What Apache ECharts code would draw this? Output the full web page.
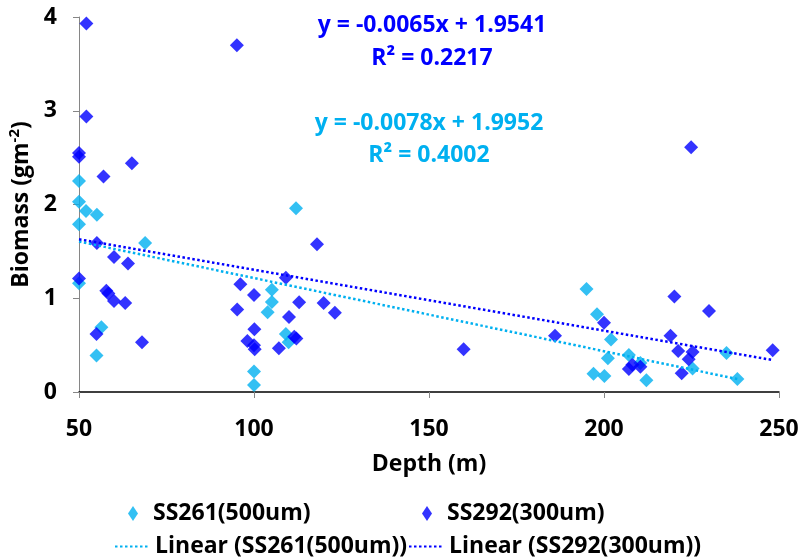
<!DOCTYPE html>
<html>
<head>
<meta charset="utf-8">
<script src="https://cdn.jsdelivr.net/npm/echarts@6/dist/echarts.min.js"></script>
<style>
  html, body { margin: 0; padding: 0; background: #ffffff; }
  #chart { width: 804px; height: 558px; }
</style>
</head>
<body>
<div id="chart"></div>
<script>
// Biomass against depth for two cruises, with linear fits.
const ss261Name = 'SS261(500um)';
const ss292Name = 'SS292(300um)';

const ss261Depth = [50, 50, 52, 55.1, 50, 68.9, 50, 56.4, 55,
  112, 105.1, 105.1, 103.9, 109.1, 109.9, 100, 100,
  195, 198, 202, 201.1, 197, 200.1, 207.1, 210.4, 212.1, 225.3, 235, 238.1];
const ss261Biomass = [2.25, 2.03, 1.93, 1.89, 1.79, 1.59, 1.16, 0.69, 0.39,
  1.96, 1.09, 0.96, 0.85, 0.62, 0.53, 0.22, 0.075,
  1.10, 0.83, 0.56, 0.36, 0.195, 0.17, 0.395, 0.31, 0.125, 0.25, 0.416, 0.14];

const ss292Depth = [52.1, 52.1, 50, 50, 65.1, 57, 55.1, 60, 64, 50, 57.8, 58.4, 60, 63.2, 55, 68,
  95.1, 118, 109.1, 96.1, 100, 95.2, 112.9, 119.9, 123.1, 110, 100.1, 111.5, 112.1, 98.1, 100, 100.2, 107.1,
  159.9, 186,
  200, 207.1, 208.1, 210.4, 220.1, 219, 221.2, 222.2, 224.2, 225.3, 224.9, 230, 248.2];
const ss292Biomass = [3.93, 2.94, 2.55, 2.51, 2.44, 2.30, 1.59, 1.44, 1.37, 1.21, 1.08, 1.05, 0.97, 0.95, 0.62, 0.53,
  3.70, 1.575, 1.22, 1.15, 1.035, 0.88, 0.957, 0.95, 0.846, 0.80, 0.67, 0.59, 0.57, 0.544, 0.50, 0.455, 0.466,
  0.455, 0.60,
  0.74, 0.245, 0.29, 0.27, 1.02, 0.60, 0.437, 0.20, 0.35, 0.427, 2.61, 0.864, 0.445];

// Fitted lines: [slope, intercept, R²]
const ss261Fit = [-0.0078, 1.9952, 0.4002];
const ss292Fit = [-0.0065, 1.9541, 0.2217];

const xTicks = [50, 100, 150, 200, 250];
const yTicks = [0, 1, 2, 3, 4];

const CYAN = '#00B0F0';
const BLUE = '#0000FF';
const FONT = "'Open Sans', 'Noto Sans', sans-serif";
const FS = 23;

function pairs(xs, ys) { return xs.map((x, i) => [x, ys[i]]); }
function fitLine(xs, fit) {
  const lo = Math.min(...xs), hi = Math.max(...xs);
  return [[lo, fit[0] * lo + fit[1]], [hi, fit[0] * hi + fit[1]]];
}
function eqText(fit) {
  return 'y = ' + fit[0].toFixed(4) + 'x + ' + fit[1].toFixed(4);
}
function r2Text(fit) { return 'R\u00B2 = ' + fit[2].toFixed(4); }

const labelStyle = { fontFamily: FONT, fontSize: FS, fontWeight: 'bold', color: '#000' };

const chart = echarts.init(document.getElementById('chart'), null, { renderer: 'canvas' });

function legendAt(name, left, top, opts) {
  return Object.assign({
    data: [name], left: left, top: top, padding: 0, selectedMode: false,
    textStyle: Object.assign({}, labelStyle)
  }, opts);
}

chart.setOption({
  animation: false,
  backgroundColor: '#ffffff',
  grid: { left: 79, right: 25, top: 17, bottom: 166, outerBoundsMode: 'none' },
  xAxis: {
    type: 'value', min: xTicks[0], max: xTicks[xTicks.length - 1], interval: xTicks[1] - xTicks[0],
    name: 'Depth (m)', nameLocation: 'middle', nameGap: 61,
    nameTextStyle: Object.assign({}, labelStyle),
    axisLine: { show: true, onZero: false, lineStyle: { color: '#000', width: 1.5 } },
    axisTick: { show: true, length: 6, lineStyle: { color: '#868686' } },
    axisLabel: Object.assign({ margin: 26 }, labelStyle),
    splitLine: { show: false }
  },
  yAxis: {
    type: 'value', min: yTicks[0], max: yTicks[yTicks.length - 1], interval: yTicks[1] - yTicks[0],
    name: '{a|Biomass (gm}{s|-2}{a|)}', nameLocation: 'middle', nameGap: 44, nameRotate: 90,
    nameTextStyle: {
      rich: {
        a: { fontFamily: FONT, fontSize: FS, fontWeight: 'bold', color: '#000', lineHeight: 28 },
        s: { fontFamily: FONT, fontSize: 15, fontWeight: 'bold', color: '#000', verticalAlign: 'top', lineHeight: 28 }
      }
    },
    axisLine: { show: true, onZero: false, lineStyle: { color: '#868686', width: 1 } },
    axisTick: { show: true, length: 6, lineStyle: { color: '#868686' } },
    axisLabel: Object.assign({ margin: 22 }, labelStyle),
    splitLine: { show: false }
  },
  legend: [
    legendAt(ss261Name, 128, 502, { icon: 'diamond', itemWidth: 10, itemHeight: 15,
      textStyle: Object.assign({ padding: [0, 0, 0, 10] }, labelStyle) }),
    legendAt(ss292Name, 422, 502, { icon: 'diamond', itemWidth: 10, itemHeight: 15,
      textStyle: Object.assign({ padding: [0, 0, 0, 10] }, labelStyle) }),
    legendAt('Linear (' + ss261Name + ')', 114, 535, { itemWidth: 35, itemHeight: 14,
      itemStyle: { opacity: 0 } }),
    legendAt('Linear (' + ss292Name + ')', 408, 535, { itemWidth: 35, itemHeight: 14,
      itemStyle: { opacity: 0 } })
  ],
  graphic: [
    { type: 'text', x: 432, y: 25, style: { text: eqText(ss292Fit), fill: BLUE, font: 'bold ' + FS + 'px ' + FONT, align: 'center', verticalAlign: 'middle' } },
    { type: 'text', x: 432, y: 58, style: { text: r2Text(ss292Fit), fill: BLUE, font: 'bold ' + FS + 'px ' + FONT, align: 'center', verticalAlign: 'middle' } },
    { type: 'text', x: 429, y: 123, style: { text: eqText(ss261Fit), fill: CYAN, font: 'bold ' + FS + 'px ' + FONT, align: 'center', verticalAlign: 'middle' } },
    { type: 'text', x: 429, y: 155, style: { text: r2Text(ss261Fit), fill: CYAN, font: 'bold ' + FS + 'px ' + FONT, align: 'center', verticalAlign: 'middle' } }
  ],
  series: [
    {
      name: ss261Name, type: 'scatter', data: pairs(ss261Depth, ss261Biomass),
      symbol: 'diamond', symbolSize: [14, 14], itemStyle: { color: CYAN }, z: 2
    },
    {
      name: ss292Name, type: 'scatter', data: pairs(ss292Depth, ss292Biomass),
      symbol: 'diamond', symbolSize: [14, 14], itemStyle: { color: BLUE }, z: 3
    },
    {
      name: 'Linear (' + ss261Name + ')', type: 'line', data: fitLine(ss261Depth, ss261Fit),
      symbol: 'none', lineStyle: { color: CYAN, width: 2.5, type: [2.5, 2.5] }, itemStyle: { color: CYAN }, z: 4
    },
    {
      name: 'Linear (' + ss292Name + ')', type: 'line', data: fitLine(ss292Depth, ss292Fit),
      symbol: 'none', lineStyle: { color: BLUE, width: 2.5, type: [2.5, 2.5] }, itemStyle: { color: BLUE }, z: 4
    }
  ]
});
</script>
</body>
</html>
